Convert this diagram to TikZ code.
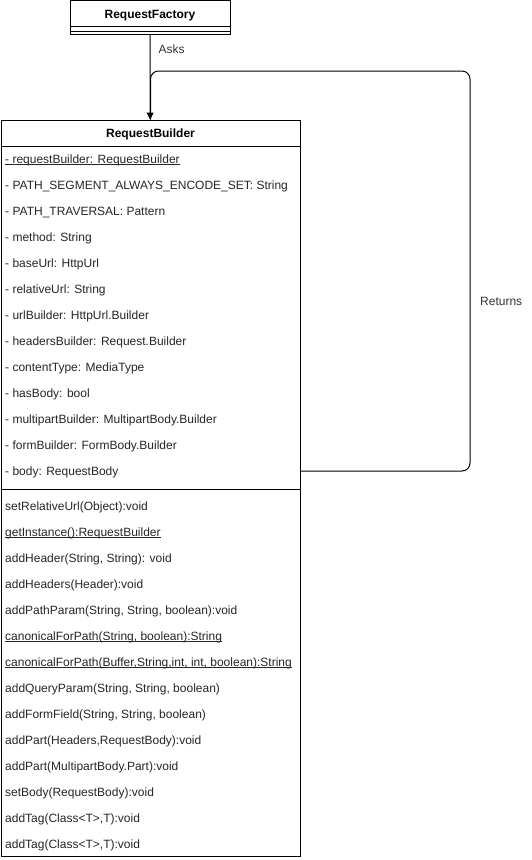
\documentclass[tikz,border=0pt]{standalone}
\usepackage{fontspec}
\setmainfont{Liberation Sans}
\usetikzlibrary{positioning,arrows.meta}

% static members are underlined close to the baseline
\newcommand\undl[1]{\setbox0\hbox{#1}\rlap{\rule[-1.6pt]{\wd0}{0.7pt}}\box0}

\tikzset{
  every node/.style={font=\fontsize{12}{14}\selectfont},
  % --- nodes
  cls/.style   = {draw=black, fill=white, line width=1pt, inner sep=0pt},
  ttl/.style   = {font=\fontsize{12}{14}\selectfont\bfseries, inner sep=0pt, anchor=base},
  row/.style   = {anchor=base west, inner sep=0pt, text=black!85},
  lbl/.style   = {inner sep=0pt, text=black!80},
  % --- edges
  e/.style     = {-{Triangle[length=7pt,width=7pt]}, line width=1pt, draw=black},
  ln/.style    = {line width=1pt, draw=black},
}

\begin{document}
\begin{tikzpicture}[x=1pt,y=-1pt]
  \useasboundingbox (0,0) rectangle (531,860);

  % RequestFactory
  \node[cls, minimum width=160pt, minimum height=34pt] (fac) at (150,17) {};
  \node[ttl] (factitle) at (150,18.5) {RequestFactory};
  \draw[ln] (70,26) -- (230,26);
  \draw[ln] (70,31) -- (230,31);

  % RequestBuilder
  \node[cls, minimum width=299pt, minimum height=736pt] (bld) at (150.5,488) {};
  \node[ttl] (bldtitle) at (150.5,137.5) {RequestBuilder};
  \draw[ln] (1,146) -- (300,146);
  \draw[ln] (1,489) -- (300,489);

  \foreach \t [count=\i] in {
      \undl{- requestBuilder: RequestBuilder},
      - PATH\_SEGMENT\_ALWAYS\_ENCODE\_SET: String,
      - PATH\_TRAVERSAL: Pattern,
      - method: String,
      - baseUrl: HttpUrl,
      - relativeUrl: String,
      - urlBuilder: HttpUrl.Builder,
      - headersBuilder: Request.Builder,
      - contentType: MediaType,
      - hasBody: bool,
      - multipartBuilder: MultipartBody.Builder,
      - formBuilder: FormBody.Builder,
      - body: RequestBody}
    \node[row] (a\i) at (5,137.5+26*\i) {\t};

  \foreach \t [count=\i] in {
      setRelativeUrl(Object):void,
      \undl{getInstance():RequestBuilder},
      {addHeader(String, String): void},
      addHeaders(Header):void,
      {addPathParam(String, String, boolean):void},
      \undl{canonicalForPath(String, boolean):String},
      \undl{canonicalForPath(Buffer,String,int, int, boolean):String},
      {addQueryParam(String, String, boolean)},
      {addFormField(String, String, boolean)},
      {addPart(Headers,RequestBody):void},
      addPart(MultipartBody.Part):void,
      setBody(RequestBody):void,
      {addTag(Class<T>,T):void},
      {addTag(Class<T>,T):void}}
    \node[row] (m\i) at (5,484.5+26*\i) {\t};

  % connectors
  \coordinate (rcorner) at (470,71);
  \draw[e] (fac) -- node[lbl, pos=0.17, right=8pt] (asks) {Asks} (bld);
  \draw[ln, rounded corners=8pt] (bld.east |- 0,471) -| (rcorner) -| (bld.north);
  \node[lbl, anchor=west] (ret) at (480,301) {Returns};
\end{tikzpicture}
\end{document}
